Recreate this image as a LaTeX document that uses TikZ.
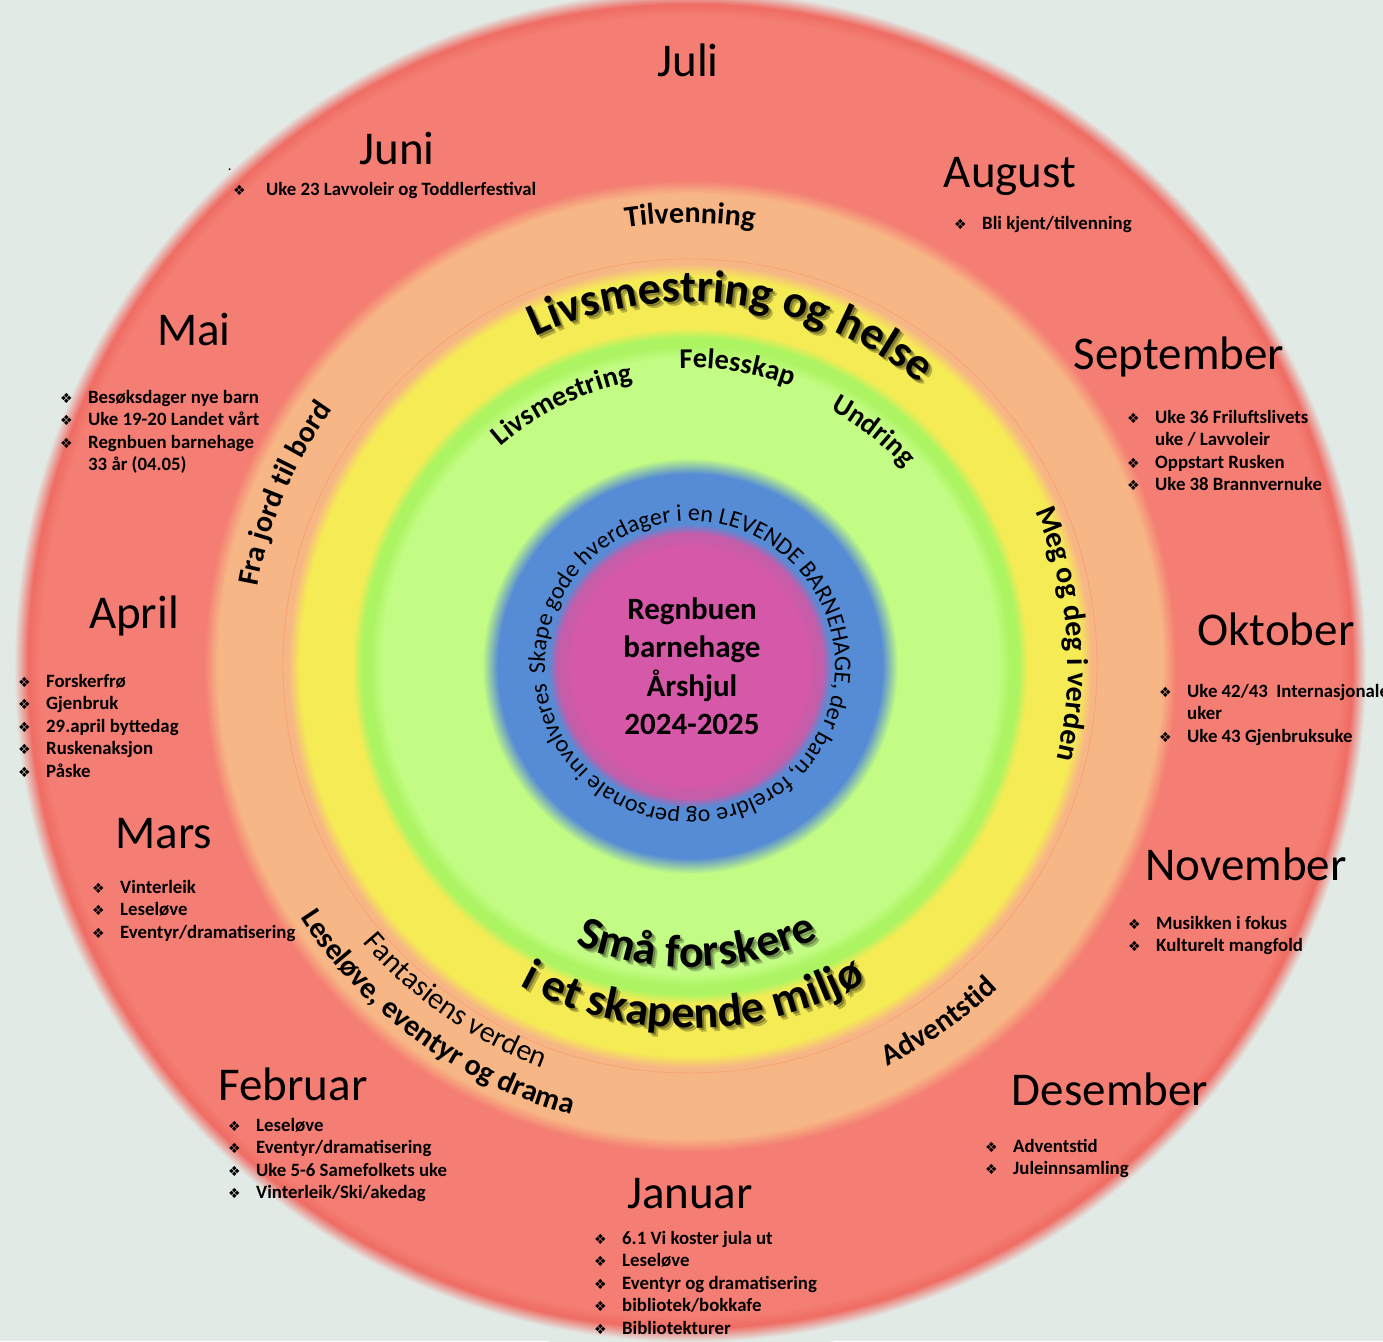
\documentclass[tikz,border=0pt]{standalone}
\usepackage{fontspec}
\setmainfont{Carlito}
\newfontfamily\dingfont{DejaVu Sans}
\usetikzlibrary{decorations.text}

\definecolor{bgwheel}{HTML}{E2EAE6}
\definecolor{magwheel}{HTML}{D658A8}
\definecolor{magedge}{HTML}{C75CA9}
\definecolor{bluewheel}{HTML}{568BD5}
\definecolor{greenwheel}{HTML}{C3FC84}
\definecolor{greenedge}{HTML}{ACF462}
\definecolor{yellowwheel}{HTML}{F5EB55}
\definecolor{orangewheel}{HTML}{F7B685}
\definecolor{redwheel}{HTML}{F47E73}
\definecolor{rededge}{HTML}{EF6C64}

\pgfdeclareradialshading{wheel}{\pgfpoint{0bp}{0bp}}{%
  color(0bp)=(magwheel); color(4.275bp)=(magwheel);
  color(4.565bp)=(magedge); color(4.785bp)=(magedge);
  color(5.145bp)=(bluewheel); color(6.955bp)=(bluewheel);
  color(7.535bp)=(greenwheel); color(11.16bp)=(greenwheel);
  color(11.594bp)=(greenedge); color(11.884bp)=(greenedge);
  color(12.246bp)=(yellowwheel); color(14.13bp)=(yellowwheel);
  color(14.565bp)=(orangewheel); color(17.101bp)=(orangewheel);
  color(17.609bp)=(redwheel); color(23.551bp)=(redwheel);
  color(23.986bp)=(rededge); color(24.493bp)=(bgwheel); color(50bp)=(bgwheel)}

\tikzset{month/.style={font=\fontsize{47}{50}\selectfont, anchor=base, inner sep=0pt},
    items/.style={font=\bfseries\fontsize{18.8}{22.5}\selectfont, anchor=north west,
        inner sep=0pt, align=left},
    ring text/.style={decorate, decoration={text along path, text align=center, text={#1}}},
    }
\newcommand\itm[1]{\makebox[28pt][l]{\dingfont\fontsize{14}{14}\selectfont ❖}#1}
\newcommand\cont[1]{\hspace*{28pt}#1}
\newcommand\bigbold{\fontsize{46}{50}\selectfont\bfseries}
\newcommand\midbold{\fontsize{30}{32}\selectfont\bfseries}
\newcommand\innerbold{\fontsize{28.5}{32}\selectfont\bfseries}
\newcommand\midreg{\fontsize{30}{32}\selectfont}
\newcommand\smallreg{\fontsize{24}{26}\selectfont}

\begin{document}
\begin{tikzpicture}[x=1pt,y=1pt]
\useasboundingbox (-690,-675) rectangle (693,666);
\fill[bgwheel] (-690,-675) rectangle (693,666);
\shade[shading=wheel] (0,0) circle[radius=690];
\draw[orangewheel!80!red, line width=.8pt, opacity=.5] (0,0) circle[radius=407];

% months
\node[month] (jul) at (-2,589) {Juli};
\node[month] (jun) at (-293,501) {Juni};
\node[month] (aug) at (320,478) {August};
\node[month] (mai) at (-496,320) {Mai};
\node[month] (sep) at (489,296) {September};
\node[month] (apr) at (-556,38) {April};
\node[month] (okt) at (586,21) {Oktober};
\node[month] (mar) at (-526,-182) {Mars};
\node[month] (nov) at (556,-214) {November};
\node[month] (feb) at (-397,-434) {Februar};
\node[month] (des) at (420,-439) {Desember};
\node[month] (jan) at (0,-542) {Januar};

% lists
\node[items, font=\bfseries\fontsize{12}{12}\selectfont] (jun-dot) at (-462,497) {.};
\node[items] (jun-list) at (-457,484) {\makebox[33pt][l]{\dingfont\fontsize{14}{14}\selectfont ❖}Uke 23 Lavvoleir og Toddlerfestival};
\node[items] (aug-list) at (264,450) {\itm{Bli kjent/tilvenning}};
\node[items] (mai-list) at (-630,276) {\itm{Besøksdager nye barn}\\
    \itm{Uke 19-20 Landet vårt}\\ \itm{Regnbuen barnehage}\\ \cont{33 år (04.05)}};
\node[items] (sep-list) at (437,256) {\itm{Uke 36 Friluftslivets}\\
    \cont{uke / Lavvoleir}\\ \itm{Oppstart Rusken}\\ \itm{Uke 38 Brannvernuke}};
\node[items] (apr-list) at (-672,-8) {\itm{Forskerfrø}\\ \itm{Gjenbruk}\\
    \itm{29.april byttedag}\\ \itm{Ruskenaksjon}\\ \itm{Påske}};
\node[items] (okt-list) at (469,-18) {\itm{Uke 42/43\ \ Internasjonale}\\
    \cont{uker}\\ \itm{Uke 43 Gjenbruksuke}};
\node[items] (mar-list) at (-598,-214) {\itm{Vinterleik}\\ \itm{Leseløve}\\
    \itm{Eventyr/dramatisering}};
\node[items] (nov-list) at (438,-250) {\itm{Musikken i fokus}\\ \itm{Kulturelt mangfold}};
\node[items] (feb-list) at (-462,-452) {\itm{Leseløve}\\ \itm{Eventyr/dramatisering}\\
    \itm{Uke 5-6 Samefolkets uke}\\ \itm{Vinterleik/Ski/akedag}};
\node[items] (des-list) at (295,-473) {\itm{Adventstid}\\ \itm{Juleinnsamling}};
\node[items] (jan-list) at (-96,-565) {\itm{6.1 Vi koster jula ut}\\ \itm{Leseløve}\\
    \itm{Eventyr og dramatisering}\\ \itm{bibliotek/bokkafe}\\ \itm{Bibliotekturer}};

% centre
\node[font=\bfseries\fontsize{31}{38.5}\selectfont, align=center] (title) at (2,0)
    {Regnbuen\\barnehage\\Årshjul\\2024-2025};
\path[ring text={|\smallreg|Skape gode hverdager i en LEVENDE BARNEHAGE, der barn, foreldre og personale involveres},
    decoration={text align=left}] (183:145) arc[start angle=183, end angle=-177, radius=145];

% shadows
\begin{scope}[shift={(2,-2)}, opacity=.3]
\path[ring text={|\bigbold|Livsmestring og helse}] (123:364) arc[start angle=123, end angle=43, radius=364];
\path[ring text={|\bigbold|Små forskere}] (-128.5:301) arc[start angle=-128.5, end angle=-48.5, radius=301];
\path[ring text={|\bigbold|i et skapende miljø}] (-134.5:362) arc[start angle=-134.5, end angle=-44.5, radius=362];
\end{scope}
\begin{scope}[shift={(4,-4)}, opacity=.25]
\path[ring text={|\bigbold|Livsmestring og helse}] (123:364) arc[start angle=123, end angle=43, radius=364];
\path[ring text={|\bigbold|Små forskere}] (-128.5:301) arc[start angle=-128.5, end angle=-48.5, radius=301];
\path[ring text={|\bigbold|i et skapende miljø}] (-134.5:362) arc[start angle=-134.5, end angle=-44.5, radius=362];
\end{scope}

% ring texts
\path[ring text={|\bigbold|Livsmestring og helse}] (123:364) arc[start angle=123, end angle=43, radius=364];
\path[ring text={|\bigbold|Små forskere}] (-128.5:301) arc[start angle=-128.5, end angle=-48.5, radius=301];
\path[ring text={|\bigbold|i et skapende miljø}] (-134.5:362) arc[start angle=-134.5, end angle=-44.5, radius=362];
\path[ring text={|\midbold|Tilvenning}] (110:443) arc[start angle=110, end angle=70, radius=443];
\path[ring text={|\innerbold|Felesskap}] (101:298) arc[start angle=101, end angle=61, radius=298];
\path[ring text={|\innerbold|Livsmestring}] (136:290) arc[start angle=136, end angle=96, radius=290];
\path[ring text={|\innerbold|Undring}] (72:292) arc[start angle=72, end angle=32, radius=292];
\path[ring text={|\midbold|Meg og deg i verden}] (35:378) arc[start angle=35, end angle=-25, radius=378];
\path[ring text={|\midbold|Fra jord til bord}] (177:440) arc[start angle=177, end angle=137, radius=440];
\path[ring text={|\midbold|Adventstid}] (-75:446) arc[start angle=-75, end angle=-35, radius=446];
\path[ring text={|\midreg|Fantasiens verden}] (-150:428) arc[start angle=-150, end angle=-100, radius=428];
\path[ring text={|\midbold|Leseløve, eventyr og drama}] (-156:464) arc[start angle=-156, end angle=-96, radius=464];
\end{tikzpicture}
\end{document}
